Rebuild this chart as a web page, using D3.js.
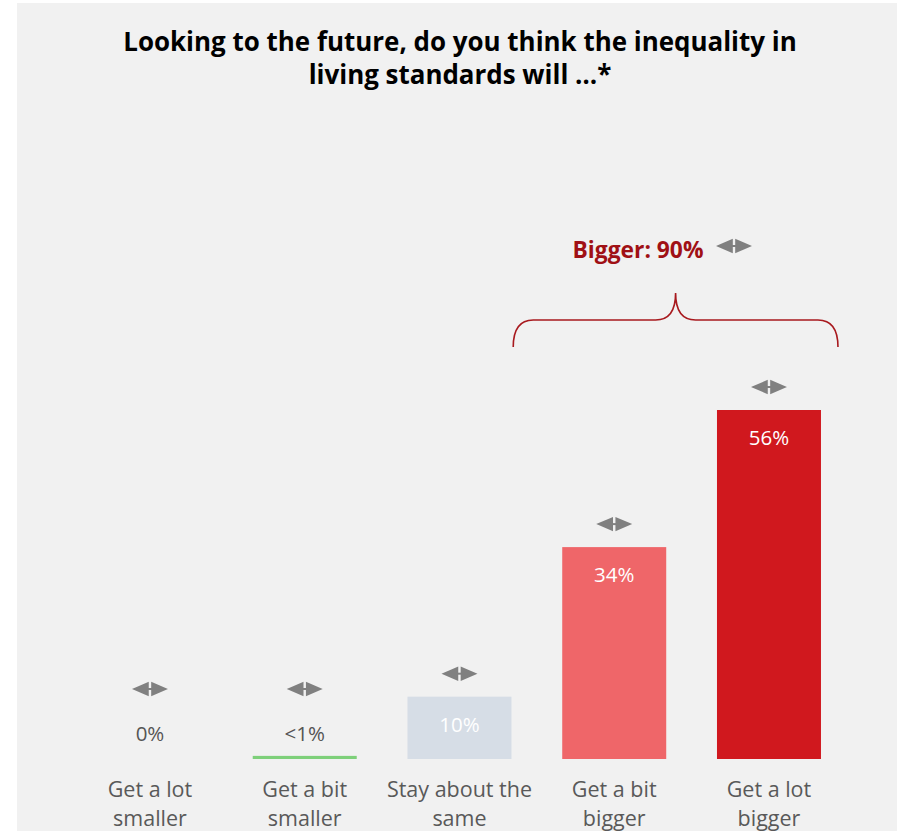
<!DOCTYPE html>
<html>
<head>
<meta charset="utf-8">
<script src="https://cdn.jsdelivr.net/npm/d3@7"></script>
<style>
  html, body { margin: 0; padding: 0; background: #ffffff; }
  svg { display: block; }
</style>
</head>
<body>
<svg id="chart" width="902" height="833"></svg>
<script>
// Survey answers and shares (%)
const categories = [
  ["Get a lot", "smaller"],
  ["Get a bit", "smaller"],
  ["Stay about the", "same"],
  ["Get a bit", "bigger"],
  ["Get a lot", "bigger"]
];
const values = [0, 0.5, 10, 34, 56];
const valueLabels = ["0%", "<1%", "10%", "34%", "56%"];
const barColors = ["#7ed07a", "#7ed07a", "#d6dde6", "#ef6669", "#d0181e"];
const titleLines = ["Looking to the future, do you think the inequality in", "living standards will \u2026*"];
const groupLabel = "Bigger: 90%";

const svg = d3.select("#chart");
const font = "'Open Sans', 'Noto Sans', sans-serif";

// panel background
svg.append("rect").attr("x", 17).attr("y", 3).attr("width", 880).attr("height", 828).attr("fill", "#f1f1f1");

const keys = categories.map((d, i) => i);
const x = d3.scaleBand().domain(keys).range([72.6, 846.35]).paddingInner(0.328).paddingOuter(0.164);
const y = d3.scaleLinear().domain([0, 56]).range([759, 410]);

// title: size chosen so the first line spans the panel's text width
const title = svg.append("g");
const titleText = titleLines.map((t, i) => title.append("text")
  .attr("x", 460).attr("y", 51 + i * 33)
  .attr("text-anchor", "middle")
  .attr("font-family", font).attr("font-weight", 700)
  .attr("font-size", 26).attr("fill", "#000")
  .text(t));
const titleSize = 26 * 674 / titleText[0].node().getComputedTextLength();
titleText.forEach(t => t.attr("font-size", titleSize));

// double-headed arrow glyph: two triangles joined by a short stem
function arrow(g, cx, cy) {
  const a = g.append("g").attr("transform", `translate(${cx},${cy})`).attr("fill", "#808080");
  a.append("path").attr("d", "M-18,0 L-1.2,-7.2 L-1.2,7.2 Z");
  a.append("path").attr("d", "M18,0 L1.2,-7.2 L1.2,7.2 Z");
  a.append("rect").attr("x", -2).attr("y", -1).attr("width", 4).attr("height", 2);
}

const bars = svg.append("g");
values.forEach((v, i) => {
  const bx = x(i), bw = x.bandwidth(), cx = bx + bw / 2;
  const top = y(v);
  if (v > 0) {
    bars.append("rect")
      .attr("x", bx).attr("y", top)
      .attr("width", bw).attr("height", y(0) - top)
      .attr("fill", barColors[i]);
  }
  const small = v < 5;
  // value label
  bars.append("text")
    .attr("x", cx).attr("y", small ? 741 : top + 35)
    .attr("text-anchor", "middle")
    .attr("font-family", font).attr("font-size", 20.5)
    .attr("fill", small ? "#555555" : "#ffffff")
    .text(valueLabels[i]);
  // arrow marker above bar
  arrow(bars, cx, Math.min(top, 712) - 23);
  // category label
  categories[i].forEach((line, j) => {
    bars.append("text")
      .attr("x", cx).attr("y", 797 + j * 29)
      .attr("text-anchor", "middle")
      .attr("font-family", font).attr("font-size", 21.5)
      .attr("fill", "#595959")
      .text(line);
  });
});

// brace grouping the two "bigger" answers
const bL = x(3) - 49, bR = x(4) + x.bandwidth() + 17;
const bC = (bL + bR) / 2;
const yTop = 293, yMid = 320, yEnd = 347, r = 20;
const braceColor = "#a8191e";
svg.append("path")
  .attr("d", `M${bL},${yEnd} Q${bL},${yMid} ${bL + r},${yMid} L${bC - r},${yMid} Q${bC},${yMid} ${bC},${yTop}
              Q${bC},${yMid} ${bC + r},${yMid} L${bR - r},${yMid} Q${bR},${yMid} ${bR},${yEnd}`)
  .attr("fill", "none").attr("stroke", braceColor).attr("stroke-width", 1.6);

const gl = svg.append("text")
  .attr("x", 638).attr("y", 258)
  .attr("text-anchor", "middle")
  .attr("font-family", font).attr("font-weight", 700).attr("font-size", 22)
  .attr("fill", "#a01015")
  .text(groupLabel);
const glw = gl.node().getComputedTextLength();
gl.attr("font-size", 22 * 131 / glw);
arrow(svg, 734, 246);
</script>
</body>
</html>
